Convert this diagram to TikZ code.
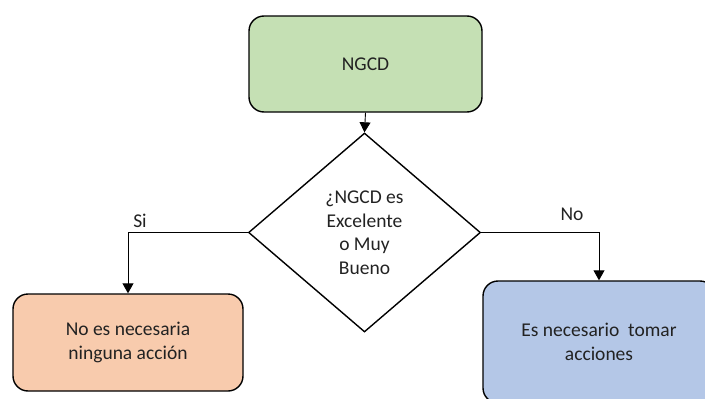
\documentclass[tikz,border=0pt]{standalone}
\usepackage{fontspec}
\setmainfont{Carlito}
\usetikzlibrary{shapes.geometric,arrows.meta}
\definecolor{boxgreen}{HTML}{C5E0B4}
\definecolor{boxorange}{HTML}{F8CBAD}
\definecolor{boxblue}{HTML}{B4C7E7}
\definecolor{txt}{HTML}{222222}
\begin{document}
\begin{tikzpicture}[x=1pt,y=-1pt,
  every node/.style={font=\fontsize{19.5}{23.5}\selectfont, text=txt},
  procbox/.style={draw=black, line width=1.4pt, rounded corners=15pt, inner sep=0pt, align=center},
  decision/.style={draw=black, line width=1.4pt, diamond, inner sep=0pt, align=center, minimum width=232pt, minimum height=199pt},
  conn/.style={draw=black, line width=0.9pt, -{Triangle[length=10pt,width=11pt]}},
  lbl/.style={inner sep=0pt}
]
\useasboundingbox (0,0) rectangle (705,399);
\node[procbox, fill=boxgreen, minimum width=233pt, minimum height=96pt] (ngcd) at (365.5,64) {NGCD};
\node[decision] (dec) at (364.5,232.5) {¿NGCD es\\Excelente\\o Muy\\Bueno};
\node[procbox, fill=boxorange, minimum width=230pt, minimum height=97pt] (yes) at (128,342.5) {No es necesaria\\ninguna acción};
\node[procbox, fill=boxblue, minimum width=232pt, minimum height=122pt] (no) at (599,342) {Es necesario\ \ tomar\\acciones};
\draw[conn] (ngcd.south) -- (dec.north);
\draw[conn] (dec.west) -| (yes.north);
\draw[conn] (dec.east) -| (no.north);
\node[lbl] (si) at (140,221) {Si};
\node[lbl] (nolbl) at (572,214) {No};
\end{tikzpicture}
\end{document}
